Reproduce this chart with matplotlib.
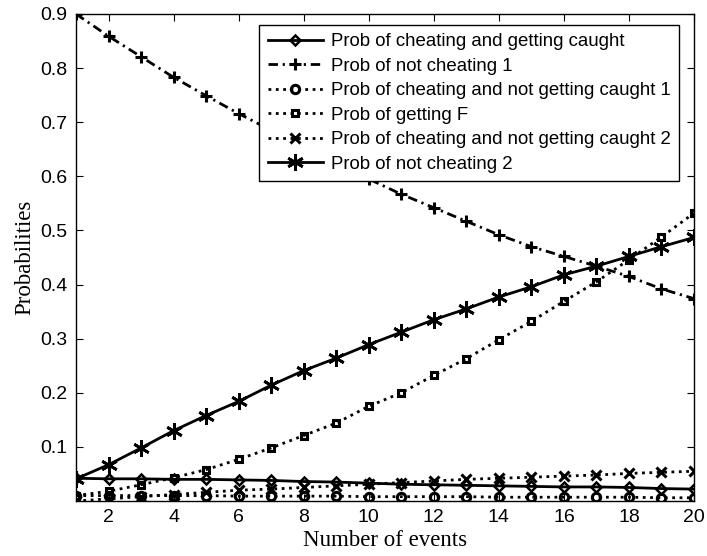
import matplotlib.pyplot as plt

events = list(range(1, 21))

caught = [0.042, 0.041, 0.041, 0.040, 0.040, 0.039, 0.038, 0.036, 0.035, 0.033,
          0.031, 0.030, 0.029, 0.028, 0.027, 0.026, 0.026, 0.025, 0.023, 0.022]
not_cheat_1 = [0.900, 0.859, 0.821, 0.783, 0.749, 0.716, 0.685, 0.654, 0.624, 0.595,
               0.567, 0.542, 0.517, 0.492, 0.470, 0.452, 0.434, 0.415, 0.392, 0.374]
not_caught_1 = [0.010, 0.010, 0.010, 0.010, 0.010, 0.009, 0.009, 0.009, 0.009, 0.008,
                0.008, 0.008, 0.008, 0.007, 0.007, 0.007, 0.007, 0.007, 0.006, 0.006]
getting_f = [0.010, 0.018, 0.030, 0.043, 0.058, 0.077, 0.098, 0.121, 0.144, 0.175,
             0.200, 0.232, 0.263, 0.298, 0.332, 0.369, 0.405, 0.446, 0.488, 0.532]
not_caught_2 = [0.000, 0.004, 0.008, 0.012, 0.016, 0.020, 0.022, 0.025, 0.028, 0.031,
                0.034, 0.037, 0.040, 0.042, 0.044, 0.046, 0.048, 0.051, 0.053, 0.055]
not_cheat_2 = [0.041, 0.067, 0.098, 0.130, 0.158, 0.184, 0.214, 0.241, 0.264, 0.289,
               0.312, 0.335, 0.355, 0.377, 0.396, 0.418, 0.434, 0.452, 0.470, 0.487]

labels = ['Prob of cheating and getting caught',
          'Prob of not cheating 1',
          'Prob of cheating and not getting caught 1',
          'Prob of getting F',
          'Prob of cheating and not getting caught 2',
          'Prob of not cheating 2']

fig = plt.figure(figsize=(7.07, 5.56), dpi=100)
ax = fig.add_axes([76 / 707, 1 - 501 / 556, 618 / 707, 487 / 556])

lw = 2.0
ax.plot(events, caught, '-', marker='D', ms=5, color='k', lw=lw, mew=1.8, mfc='none', label=labels[0])
ax.plot(events, not_cheat_1, '-.', marker='+', ms=9, color='k', lw=lw, mew=2.2,
        dashes=[3.4, 1.7, 0.8, 1.7], label=labels[1])
ax.plot(events, not_caught_1, ':', marker='o', ms=6, color='k', lw=lw, mew=2.2, mfc='none', label=labels[2])
ax.plot(events, getting_f, ':', marker='s', ms=5, color='k', lw=lw, mew=2.2, mfc='none', label=labels[3])
ax.plot(events, not_caught_2, ':', marker='x', ms=7, color='k', lw=lw, mew=2.2, label=labels[4])
ax.plot(events, not_cheat_2, '-', marker=(6, 2, 0), ms=12, color='k', lw=lw, mew=2.0, label=labels[5])

ax.set_xlim(1, 20)
ax.set_ylim(0, 0.9)
ax.set_xticks(range(2, 21, 2))
ax.set_yticks([0.1, 0.2, 0.3, 0.4, 0.5, 0.6, 0.7, 0.8, 0.9])
ax.set_yticklabels(['0.1', '0.2', '0.3', '0.4', '0.5', '0.6', '0.7', '0.8', '0.9'])
ax.tick_params(direction='in', top=True, right=True, length=5, width=0.8,
               labelsize=14, pad=6)
for lab in ax.get_xticklabels() + ax.get_yticklabels():
    lab.set_family('Liberation Sans')
for s in ax.spines.values():
    s.set_linewidth(1.0)

ax.set_xlabel('Number of events', family='Liberation Serif', fontsize=16.5, labelpad=3)
ax.set_ylabel('Probabilities', family='Liberation Serif', fontsize=16.5, labelpad=4)

leg = ax.legend(loc='upper right', bbox_to_anchor=(0.9757, 0.9774), borderaxespad=0,
                fancybox=False, framealpha=1, edgecolor='k', handlelength=3.0,
                handletextpad=0.4, borderpad=0.45, labelspacing=0.4,
                prop={'family': 'Liberation Sans', 'size': 13.4})
leg.get_frame().set_linewidth(1.0)

fig.savefig('out.png', dpi=100)
